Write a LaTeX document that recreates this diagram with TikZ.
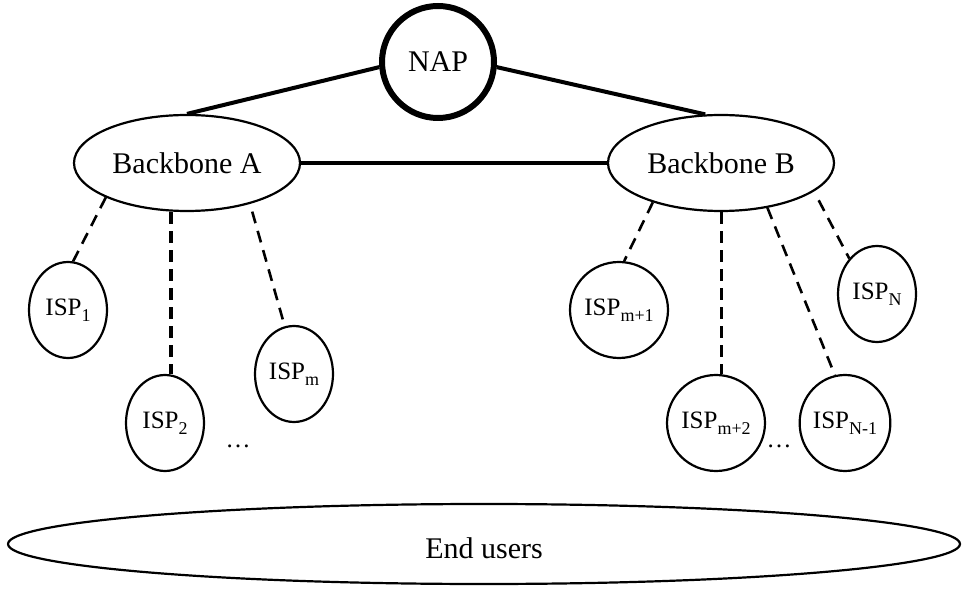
\documentclass[tikz,border=0pt]{standalone}
\usepackage{fontspec}
\setmainfont{Liberation Serif}
\usetikzlibrary{shapes.geometric}
\newcommand\isub[1]{\raisebox{-3pt}{\fontsize{9}{10}\selectfont #1}}
\begin{document}
\begin{tikzpicture}[x=0.5pt,y=-0.5pt,
  big/.style={font=\fontsize{15}{18}\selectfont},
  ell/.style={ellipse, draw, line width=1.1pt, inner sep=0pt},
  bb/.style={ell, big, minimum width=113pt, minimum height=48pt},
  isp/.style={ell, font=\fontsize{12.5}{15}\selectfont, minimum width=39pt, minimum height=48pt},
  thickline/.style={line width=2pt},
  dsh/.style={line width=1.3pt, dash pattern=on 6pt off 4pt},
  dshv/.style={line width=1.6pt, dash pattern=on 6pt off 3.5pt}]
\useasboundingbox (0,0) rectangle (962,592);
\node[circle, draw, line width=3pt, minimum size=56pt, inner sep=0pt, big] (nap) at (438,62) {NAP};
\node[bb] (A) at (187,163) {Backbone A};
\node[bb] (B) at (721,163) {Backbone B};
\node[isp] (isp1) at (68,310) {ISP\isub{1}};
\node[isp] (isp2) at (165,423) {ISP\isub{2}};
\node[isp] (ispm) at (294,374) {ISP\isub{m}};
\node[isp] (ispm1) at (619,310) {ISP\isub{m+1}};
\node[isp] (ispm2) at (716,423) {ISP\isub{m+2}};
\node[isp] (ispN1) at (845,423) {ISP\isub{N-1}};
\node[isp] (ispN) at (877,294) {ISP\isub{N}};
\node[font=\fontsize{12.5}{15}\selectfont, anchor=base, inner sep=0pt] (d1) at (238,447) {…};
\node[font=\fontsize{12.5}{15}\selectfont, anchor=base, inner sep=0pt] (d2) at (779,447) {…};
\node[ell, big, minimum width=476pt, minimum height=40pt, text height=14pt, text depth=0pt] (eu) at (484,544) {End users};
\draw[thickline] (nap.185) -- (A.north);
\draw[thickline] (nap.355) -- (B.108);
\draw[thickline] (A.east) -- (B.west);
\draw[dsh] (A.203) -- (isp1.84);
\draw[dshv] (isp2.83 |- A.south) -- (isp2.83);
\draw[dsh, shorten <=4pt] (A.327) -- (ispm.101);
\draw[dsh] (B.210) -- (ispm1.84);
\draw[dshv] (ispm2.84 |- B.south) -- (ispm2.84);
\draw[dsh] (B.316) -- (ispN1.102);
\draw[dsh, shorten <=5pt] (B.343) -- (ispN.128);
\end{tikzpicture}
\end{document}
